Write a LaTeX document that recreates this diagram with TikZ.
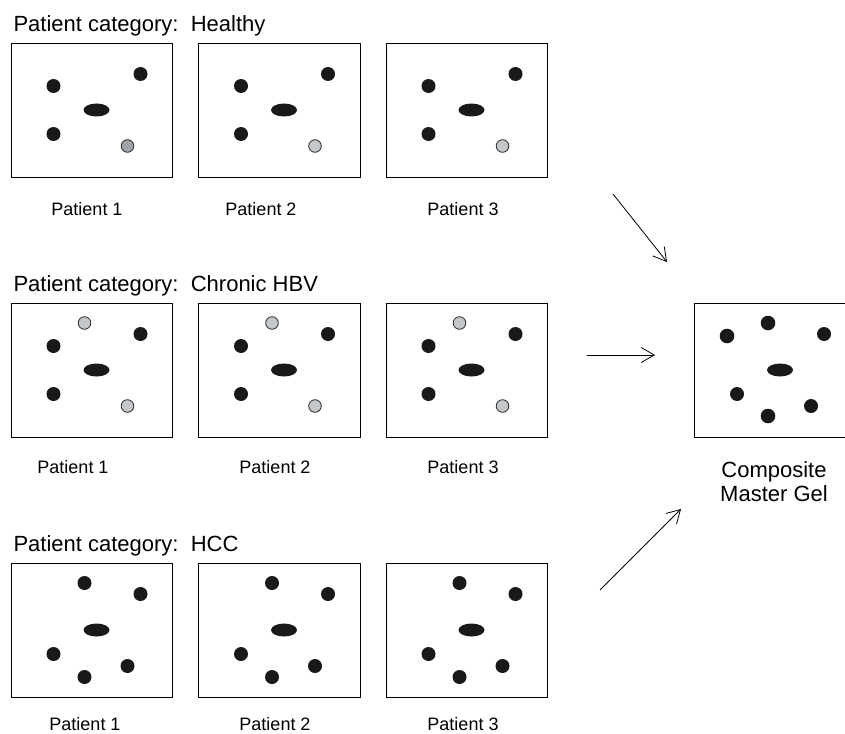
\documentclass[tikz,border=0pt]{standalone}
\usepackage{fontspec}
\setmainfont{Liberation Sans}
\usetikzlibrary{positioning,arrows.meta}
\definecolor{spotdark}{RGB}{158,164,170}
\definecolor{spotgrey}{RGB}{196,200,204}

\begin{document}
\begin{tikzpicture}[x=1pt,y=-1pt,>={Straight Barb[length=13pt,width=15pt]},
  gel/.style={draw,line width=1.1pt,minimum width=161.5pt,minimum height=134pt,inner sep=0pt,anchor=north west},
  spot/.style={fill=black!90},
  pale/.style={draw=black!85,line width=0.8pt},
  cat/.style={anchor=base west,font=\fontsize{22}{26}\selectfont},
  lbl/.style={font=\fontsize{18}{21}\selectfont}]
\useasboundingbox (0,0) rectangle (845,733);

% healthy
\node[cat] (th) at (10,32) {Patient category:\ \ Healthy};
\foreach \i/\x/\lx/\g in {1/10.5/87/spotdark,2/198/261/spotgrey,3/385.5/463/spotgrey}{
  \node[gel] (h\i) at (\x,43) {};
  \node[lbl] (hl\i) at (\lx,209) {Patient \i};
  \begin{scope}[shift={(h\i.north west)}]
    \fill[spot] (43,43) circle[radius=7pt] (130,31) circle[radius=7pt] (43,91) circle[radius=7pt];
    \fill[spot] (86,67) ellipse[x radius=13pt,y radius=6.5pt];
    \filldraw[pale,fill=\g] (117,103) circle[radius=6.3pt];
  \end{scope}
}

% chronic HBV
\node[cat] (tc) at (10,291) {Patient category:\ \ Chronic HBV};
\foreach \i/\x/\lx in {1/10.5/73,2/198/275,3/385.5/463}{
  \node[gel] (c\i) at (\x,303) {};
  \node[lbl] (cl\i) at (\lx,467) {Patient \i};
  \begin{scope}[shift={(c\i.north west)}]
    \fill[spot] (43,43) circle[radius=7pt] (130,31) circle[radius=7pt] (43,91) circle[radius=7pt];
    \fill[spot] (86,67) ellipse[x radius=13pt,y radius=6.5pt];
    \filldraw[pale,fill=spotgrey] (74,20) circle[radius=6.3pt] (117,103) circle[radius=6.3pt];
  \end{scope}
}

% HCC
\node[cat] (tk) at (10,551) {Patient category:\ \ HCC};
\foreach \i/\x/\lx in {1/10.5/85,2/198/275,3/385.5/463}{
  \node[gel] (k\i) at (\x,563) {};
  \node[lbl] (kl\i) at (\lx,724) {Patient \i};
  \begin{scope}[shift={(k\i.north west)}]
    \fill[spot] (74,20) circle[radius=7pt] (130,31) circle[radius=7pt] (43,91) circle[radius=7pt]
      (117,103) circle[radius=7pt] (74,114) circle[radius=7pt];
    \fill[spot] (86,67) ellipse[x radius=13pt,y radius=6.5pt];
  \end{scope}
}

% master gel
\node[gel,minimum width=170pt] (mg) at (694,303) {};
\node[lbl,font=\fontsize{22}{24}\selectfont,align=center] (mgl) at (774,482) {Composite\\Master Gel};
\begin{scope}[shift={(mg.north west)}]
  \fill[spot] (33,33) circle[radius=7.3pt] (74,20) circle[radius=7.3pt] (130,31) circle[radius=7pt]
    (43,91) circle[radius=7pt] (117,103) circle[radius=7pt] (74,113) circle[radius=7.3pt];
  \fill[spot] (86,67) ellipse[x radius=13pt,y radius=6.5pt];
\end{scope}

\coordinate (a1) at (613,194); \coordinate (b1) at (667,262);
\coordinate (a2) at (587,355); \coordinate (b2) at (655,355);
\coordinate (a3) at (600,590); \coordinate (b3) at (681,509);
\foreach \n in {1,2,3}
  \draw[->,line width=0.8pt] (a\n) -- (b\n);
\end{tikzpicture}
\end{document}
